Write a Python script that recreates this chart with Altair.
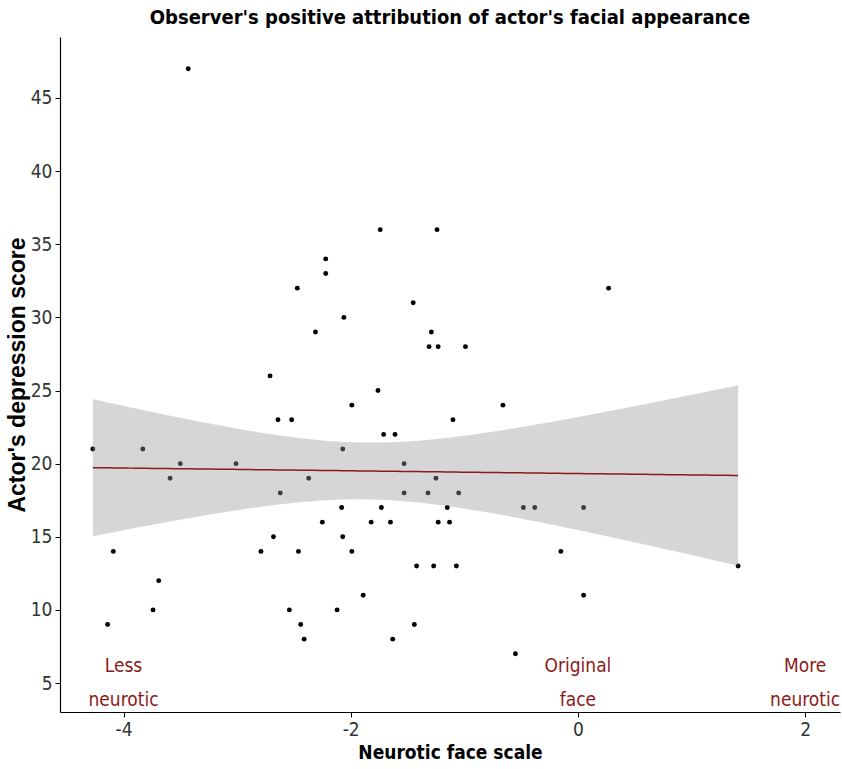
import numpy as np
import pandas as pd
import altair as alt

# Neurotic face scale position chosen by each observer, and the actor's depression score
face_scale = [
    -3.43, -4.27, -3.83, -3.50, -3.59, -3.01, -2.64, -2.52, -1.99, -2.07,
    -2.62, -2.37, -2.08, -2.25, -2.68, -2.07, -2.79, -2.46, -1.99, -4.09,
    -3.69, -3.74, -2.54, -2.12, -4.14, -2.44, -2.41, -1.74, -1.24, -2.22,
    -2.22, -2.47, -1.45, -2.06, -2.31, -1.29, -1.31, -1.23, -0.99, -2.71,
    -1.76, -1.10, -1.71, -1.61, -1.53, -1.25, -1.53, -1.32, -1.05, -1.73,
    -1.15, -1.82, -1.65, -1.23, -1.13, -1.42, -1.27, -1.07, -1.89, -1.44,
    -1.63, 0.27, -0.66, -0.48, -0.38, 0.05, -0.15, 1.41, 0.05, -0.55,
]
depression = [
    47, 21, 21, 20, 19, 20, 23, 23, 24, 21,
    18, 19, 17, 16, 15, 15, 14, 14, 14, 14,
    12, 10, 10, 10, 9, 9, 8, 36, 36, 34,
    33, 32, 31, 30, 29, 29, 28, 28, 28, 26,
    25, 23, 22, 22, 20, 19, 18, 18, 18, 17,
    17, 16, 16, 16, 16, 13, 13, 13, 11, 9,
    8, 32, 24, 17, 17, 17, 14, 13, 11, 7,
]

anchor_x = [-4, 0, 2]
anchor_y = [5, 5, 5]
anchor_text = ["Less\nneurotic", "Original\nface", "More\nneurotic"]

points = pd.DataFrame({"x": face_scale, "y": depression})

# Ordinary least squares fit with a 95% confidence band for the mean
x = np.array(face_scale, dtype=float)
y = np.array(depression, dtype=float)
n = len(x)
xm = x.mean()
sxx = ((x - xm) ** 2).sum()
slope = ((x - xm) * (y - y.mean())).sum() / sxx
intercept = y.mean() - slope * xm
resid = y - (intercept + slope * x)
s = np.sqrt((resid ** 2).sum() / (n - 2))
df_ = n - 2
z = 1.959964
tq = z + (z ** 3 + z) / (4 * df_) + (5 * z ** 5 + 16 * z ** 3 + 3 * z) / (96 * df_ ** 2)
grid = np.linspace(x.min(), x.max(), 120)
fit = intercept + slope * grid
se = s * np.sqrt(1.0 / n + (grid - xm) ** 2 / sxx)
band = pd.DataFrame({"x": grid, "fit": fit, "lo": fit - tq * se, "hi": fit + tq * se})

labels = pd.DataFrame({"x": anchor_x, "y": anchor_y, "t": anchor_text})

narrow = "DejaVu Sans Condensed, Liberation Sans Narrow, sans-serif"

xscale = alt.Scale(domain=[-4.559, 2.307], nice=False, zero=False)
yscale = alt.Scale(domain=[3.02, 49.17], nice=False, zero=False)

xaxis = alt.Axis(
    values=[-4, -2, 0, 2], labelExpr="'' + datum.value",
    title="Neurotic face scale", titleFont=narrow,
    titleFontSize=19, titleFontWeight="bold", titleColor="black", titlePadding=4,
)
yaxis = alt.Axis(
    values=[5, 10, 15, 20, 25, 30, 35, 40, 45], labelExpr="'' + datum.value",
    title="Actor's depression score",
    titleFont="Liberation Sans", titleFontSize=23, titleFontWeight="bold",
    titleColor="black", titlePadding=1,
)

pts = alt.Chart(points).mark_circle(size=24, color="black", opacity=1).encode(
    x=alt.X("x:Q", scale=xscale, axis=xaxis),
    y=alt.Y("y:Q", scale=yscale, axis=yaxis),
)

ribbon = alt.Chart(band).mark_area(color="#999999", opacity=0.4).encode(
    x=alt.X("x:Q", scale=xscale),
    y=alt.Y("lo:Q", scale=yscale),
    y2="hi:Q",
)

line = alt.Chart(band).mark_line(color="#8B1A1A", strokeWidth=1.5).encode(
    x=alt.X("x:Q", scale=xscale),
    y=alt.Y("fit:Q", scale=yscale),
)

text = alt.Chart(labels).mark_text(
    font=narrow, fontSize=19, color="#8B1A1A", lineBreak="\n",
    lineHeight=34, baseline="middle", align="center", dy=-17,
).encode(
    x=alt.X("x:Q", scale=xscale),
    y=alt.Y("y:Q", scale=yscale),
    text="t:N",
)

chart = (
    alt.layer(pts, ribbon, line, text)
    .properties(
        width=780, height=675,
        title=alt.TitleParams(
            "Observer's positive attribution of actor's facial appearance",
            font=narrow, fontSize=20, fontWeight="bold", color="black",
            anchor="middle", offset=9,
        ),
        autosize=alt.AutoSizeParams(type="none"),
        padding={"left": 60, "top": 37, "right": 2, "bottom": 57},
    )
    .configure_view(stroke=None)
    .configure_axis(
        grid=False, domainColor="black", domainWidth=1.2, tickColor="black",
        tickSize=5, labelFont=narrow, labelFontSize=19, labelColor="#333333",
        labelPadding=3,
    )
)

chart.save("out.html", embed_options={"renderer": "svg", "actions": False})
